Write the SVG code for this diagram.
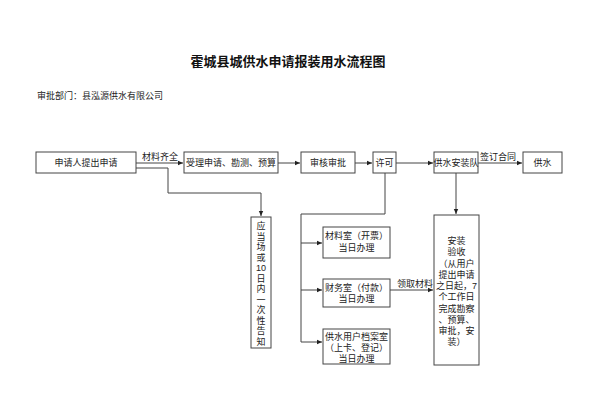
<svg xmlns="http://www.w3.org/2000/svg" width="598" height="413" viewBox="0 0 598 413">
<style>
text{font-family:"Liberation Sans","Noto Sans CJK SC",sans-serif;font-size:9px;fill:#222;}
.t{font-size:13px;font-weight:bold;fill:#111;font-family:"Liberation Serif","Noto Sans CJK SC",serif;}
.c{text-anchor:middle;}
.box{fill:#fff;stroke:#444;stroke-width:1;}
.ln{fill:none;stroke:#444;stroke-width:1;}
</style>
<defs>
<marker id="ah" markerWidth="6" markerHeight="6" refX="5" refY="3" orient="auto" markerUnits="userSpaceOnUse">
<path d="M0,0.8 L5,3 L0,5.2 Z" fill="#222"/>
</marker>
</defs>
<rect width="598" height="413" fill="#fff"/>
<text class="t c" x="288" y="66">霍城县城供水申请报装用水流程图</text>
<text x="37" y="99">审批部门：县泓源供水有限公司</text>

<g id="connectors">
<path class="ln" d="M136,163 H183" marker-end="url(#ah)"/>
<path class="ln" d="M136,168 H168 V193 H261 V216" marker-end="url(#ah)"/>
<path class="ln" d="M278,163 H300" marker-end="url(#ah)"/>
<path class="ln" d="M355,163 H372" marker-end="url(#ah)"/>
<path class="ln" d="M396,163 H433" marker-end="url(#ah)"/>
<path class="ln" d="M478,163 H522" marker-end="url(#ah)"/>
<path class="ln" d="M385,173 V214 H301 V342"/>
<path class="ln" d="M301,243 H322" marker-end="url(#ah)"/>
<path class="ln" d="M301,290 H322" marker-end="url(#ah)"/>
<path class="ln" d="M301,342 H322" marker-end="url(#ah)"/>
<path class="ln" d="M390,290 H433" marker-end="url(#ah)"/>
<path class="ln" d="M456,173 V214" marker-end="url(#ah)"/>
<text x="142" y="160">材料齐全</text>
<text x="480" y="160">签订合同</text>
<text x="397" y="287">领取材料</text>
</g>

<g id="n1"><rect class="box" x="36" y="152" width="100" height="21"/><text class="c" x="86" y="166">申请人提出申请</text></g>
<g id="n2"><rect class="box" x="184" y="152" width="94" height="21"/><text class="c" x="231" y="166">受理申请、勘测、预算</text></g>
<g id="n3"><rect class="box" x="301" y="152" width="54" height="21"/><text class="c" x="328" y="166">审核审批</text></g>
<g id="n4"><rect class="box" x="373" y="152" width="23" height="21"/><text class="c" x="384.5" y="166">许可</text></g>
<g id="n5"><rect class="box" x="434" y="152" width="44" height="21"/><text class="c" x="456" y="166">供水安装队</text></g>
<g id="n6"><rect class="box" x="523" y="152" width="39" height="21"/><text class="c" x="542.5" y="166">供水</text></g>

<g id="n7"><rect class="box" x="251" y="217" width="20" height="131"/>
<text class="c" x="261" y="229">应</text>
<text class="c" x="261" y="240">当</text>
<text class="c" x="261" y="250">场</text>
<text class="c" x="261" y="261">或</text>
<text class="c" x="261" y="271">10</text>
<text class="c" x="261" y="282">日</text>
<text class="c" x="261" y="292">内</text>
<text class="c" x="261" y="303">一</text>
<text class="c" x="261" y="313">次</text>
<text class="c" x="261" y="324">性</text>
<text class="c" x="261" y="334">告</text>
<text class="c" x="261" y="345">知</text>
</g>

<g id="n8"><rect class="box" x="323" y="227" width="67" height="31"/>
<text class="c" x="356.5" y="239">材料室（开票）</text>
<text class="c" x="356.5" y="251">当日办理</text></g>
<g id="n9"><rect class="box" x="323" y="279" width="67" height="28"/>
<text class="c" x="356.5" y="291">财务室（付款）</text>
<text class="c" x="356.5" y="302">当日办理</text></g>
<g id="n10"><rect class="box" x="323" y="329" width="67" height="35"/>
<text class="c" x="356.5" y="340">供水用户档案室</text>
<text class="c" x="356.5" y="351">（上卡、登记）</text>
<text class="c" x="356.5" y="362">当日办理</text></g>

<g id="n11"><rect class="box" x="434" y="215" width="45" height="150"/>
<text class="c" x="456.5" y="244">安装</text>
<text class="c" x="456.5" y="255">验收</text>
<text class="c" x="456.5" y="267">（从用户</text>
<text class="c" x="456.5" y="278">提出申请</text>
<text class="c" x="456.5" y="289">之日起，7</text>
<text class="c" x="456.5" y="300">个工作日</text>
<text class="c" x="456.5" y="312">完成勘察</text>
<text class="c" x="456.5" y="323">、预算、</text>
<text class="c" x="456.5" y="334">审批，安</text>
<text class="c" x="456.5" y="345">装）</text>
</g>
</svg>
